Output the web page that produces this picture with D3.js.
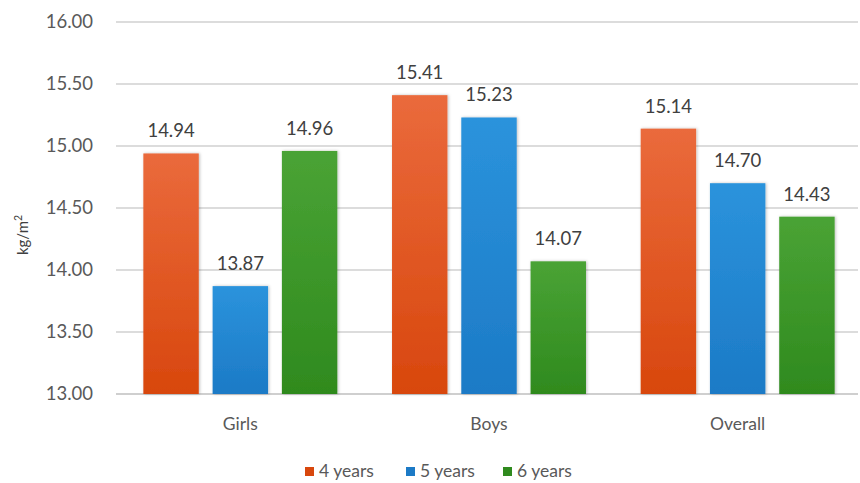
<!DOCTYPE html>
<html><head><meta charset="utf-8">
<script src="https://cdn.jsdelivr.net/npm/d3@7"></script>
<style>body{margin:0;background:#fff;}svg{display:block;font-family:Lato,"Open Sans",sans-serif;}</style>
</head><body><svg id="c" width="860" height="483"></svg>
<script>
const categories = ["Girls","Boys","Overall"];
const seriesNames = ["4 years","5 years","6 years"];
const years4 = [14.94, 15.41, 15.14];
const years5 = [13.87, 15.23, 14.70];
const years6 = [14.96, 14.07, 14.43];
const yTicks = [13.00, 13.50, 14.00, 14.50, 15.00, 15.50, 16.00];
const colorsTop = ["#ea6a3c","#2b93dc","#4aa335"];
const colorsBot = ["#d8470d","#1c7ac6","#2f8a1e"];

const series = [years4, years5, years6];
const svg = d3.select("#c");
const m = {l:116, r:862, t:22, b:394};
const y = d3.scaleLinear().domain([13,16]).range([m.b, m.t]);
const x0 = d3.scaleBand().domain(categories).range([m.l, m.r]).paddingInner(0.22).paddingOuter(0.11);
const x1 = d3.scaleBand().domain(seriesNames).range([0, x0.bandwidth()]).paddingInner(0.2);

const defs = svg.append("defs");
seriesNames.forEach((s,i)=>{
  const g = defs.append("linearGradient").attr("id","g"+i).attr("x1",0).attr("y1",0).attr("x2",0).attr("y2",1);
  g.append("stop").attr("offset","0%").attr("stop-color",colorsTop[i]);
  g.append("stop").attr("offset","100%").attr("stop-color",colorsBot[i]);
});
const f = defs.append("filter").attr("id","sh").attr("x","-20%").attr("y","-20%").attr("width","140%").attr("height","140%");
f.append("feDropShadow").attr("dx",1).attr("dy",0).attr("stdDeviation",1.5).attr("flood-color","#000").attr("flood-opacity",0.25);

// gridlines
svg.append("g").selectAll("line").data(yTicks).join("line")
  .attr("x1", m.l).attr("x2", 858)
  .attr("y1", d=>y(d)).attr("y2", d=>y(d))
  .attr("stroke", d=> d===13 ? "#bfbfbf" : "#d0d0d0").attr("stroke-width",1.3);

// y tick labels
svg.append("g").selectAll("text").data(yTicks).join("text")
  .attr("x", 93).attr("y", d=>y(d)+6)
  .attr("text-anchor","end").attr("font-size",18.5).attr("fill","#595959")
  .text(d=>d.toFixed(2));

// y axis title
svg.append("text").attr("transform","translate(28,235) rotate(-90)")
  .attr("text-anchor","middle").attr("font-size",15).attr("fill","#404040")
  .html('kg/m<tspan dy="-6" font-size="10.5">2</tspan>');

// bars
const groups = svg.append("g").selectAll("g").data(categories).join("g")
  .attr("transform", d=>`translate(${x0(d)},0)`);
groups.each(function(cat, ci){
  const gg = d3.select(this);
  series.forEach((vals, si)=>{
    const v = vals[ci];
    gg.append("rect")
      .attr("x", x1(seriesNames[si])).attr("width", x1.bandwidth())
      .attr("y", y(v)).attr("height", y(13)-y(v))
      .attr("fill", `url(#g${si})`).attr("filter","url(#sh)");
    gg.append("text")
      .attr("x", x1(seriesNames[si]) + x1.bandwidth()/2)
      .attr("y", y(v)-16)
      .attr("text-anchor","middle").attr("font-size",18.5).attr("fill","#404040")
      .text(v.toFixed(2));
  });
});

// x labels
svg.append("g").selectAll("text").data(categories).join("text")
  .attr("x", d=>x0(d)+x0.bandwidth()/2).attr("y", 430)
  .attr("text-anchor","middle").attr("font-size",17.5).attr("fill","#595959")
  .text(d=>d);

// legend
const legX = [305, 406, 503];
const leg = svg.append("g").selectAll("g").data(seriesNames).join("g")
  .attr("transform",(d,i)=>`translate(${legX[i]},467)`);
leg.append("rect").attr("width",9).attr("height",9).attr("y",0).attr("fill",(d,i)=>colorsBot[i]);
leg.append("text").attr("x",14).attr("y",10).attr("font-size",17.5).attr("fill","#595959").text(d=>d);
</script></body></html>
